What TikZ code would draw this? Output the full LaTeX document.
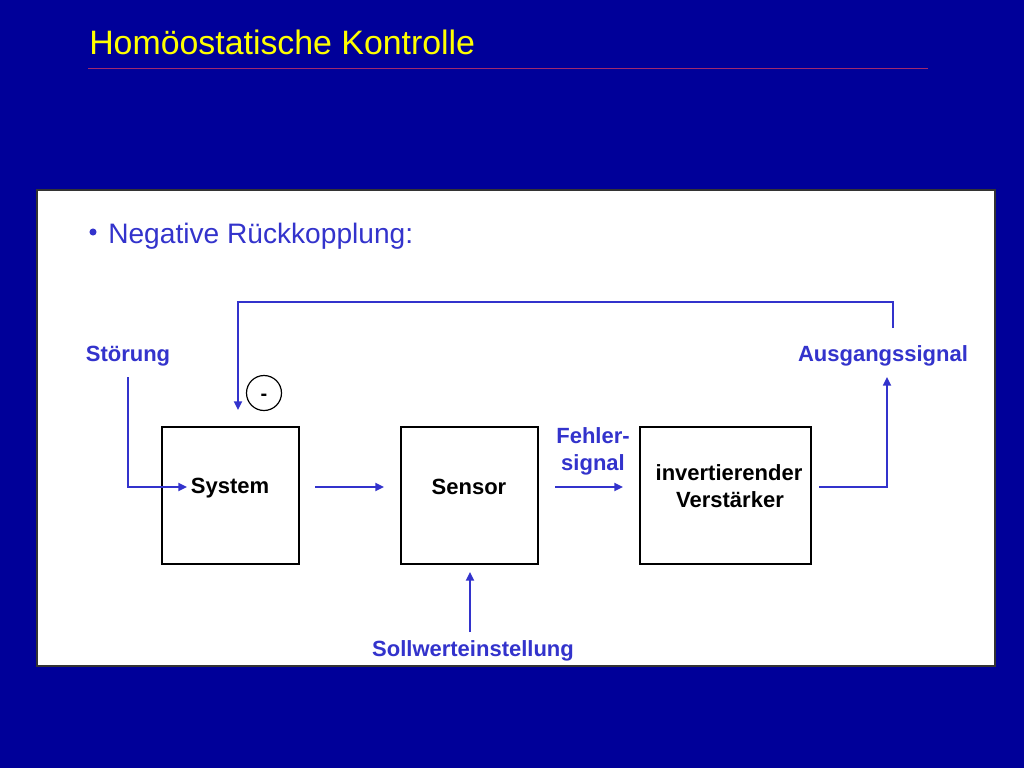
\documentclass[tikz,border=0pt]{standalone}
\usepackage{fontspec}
\setmainfont{Liberation Sans}
\usetikzlibrary{arrows.meta,calc}
\definecolor{bgblue}{RGB}{0,0,153}
\definecolor{txtblue}{RGB}{51,51,204}
\definecolor{titleyel}{RGB}{255,255,0}
\definecolor{rulecol}{RGB}{160,40,110}
\tikzset{
  lbl/.style={font=\fontsize{16.5pt}{19pt}\selectfont\bfseries, text=txtblue, inner sep=0pt},
  boxtxt/.style={font=\fontsize{16.5pt}{19pt}\selectfont\bfseries, text=black, inner sep=0pt},
  blockbox/.style={draw=black, line width=1pt, inner sep=0pt},
  arr/.style={draw=txtblue, line width=1.3pt, -{Triangle[length=6.5pt,width=6pt]}},
  plain/.style={draw=txtblue, line width=1.3pt}
}
\begin{document}
\begin{tikzpicture}[x=0.75pt,y=-0.75pt]
\fill[bgblue] (0,0) rectangle (1024,768);
\useasboundingbox (0,0) rectangle (1024,768);
% title
\node[anchor=base west, inner sep=0pt, text=titleyel, font=\fontsize{25.4pt}{28pt}\selectfont] (title) at (89,54) {Homöostatische Kontrolle};
\draw[rulecol, line width=0.9pt] (88,68.5) -- (928,68.5);
% panel
\node[draw=black!80, fill=white, line width=1pt, minimum width=958*0.75pt, minimum height=476*0.75pt, inner sep=0pt] (panel) at (516,428) {};
% bullet line
\node[circle, fill=txtblue, inner sep=0pt, minimum size=5.3pt] (bul) at (93,232) {};
\node[anchor=base west, inner sep=0pt, text=txtblue, font=\fontsize{21.1pt}{24pt}\selectfont] (neg) at (108,243) {Negative Rückkopplung:};
% boxes
\node[blockbox, minimum width=137*0.75pt, minimum height=137*0.75pt] (sys) at (230.5,495.5) {};
\node[blockbox, minimum width=137*0.75pt, minimum height=137*0.75pt] (sen) at (469.5,495.5) {};
\node[blockbox, minimum width=171*0.75pt, minimum height=137*0.75pt] (ver) at (725.5,495.5) {};
\node[boxtxt, anchor=base] (systxt) at (230,493) {System};
\node[boxtxt, anchor=base] (sentxt) at (469,494) {Sensor};
\node[boxtxt, anchor=base] (vertxt1) at (729,480) {invertierender};
\node[boxtxt, anchor=base] (vertxt2) at (730,507) {Verstärker};
% labels
\node[lbl, anchor=base] (stoer) at (128,361) {Störung};
\node[lbl, anchor=base] (ausg) at (883,361) {Ausgangssignal};
\node[lbl, anchor=base] (fehl1) at (593,443) {Fehler-};
\node[lbl, anchor=base] (fehl2) at (593,470) {signal};
\node[lbl, anchor=base] (soll) at (473,656) {Sollwerteinstellung};
% minus circle
\node[circle, draw=black, line width=0.9pt, minimum size=35*0.75pt, inner sep=0pt] (minus) at (264,393) {};
\node[inner sep=0pt, anchor=base, font=\fontsize{15pt}{16pt}\selectfont\bfseries] (minustxt) at (264,400) {-};
% coordinates
\coordinate (stA) at (128,377);
\coordinate (stB) at (187,487);
\coordinate (ssA) at (315,487);
\coordinate (ssB) at (384,487);
\coordinate (feA) at (555,487);
\coordinate (feB) at (623,487);
\coordinate (ouA) at (819,487);
\coordinate (ouB) at (887,377);
\coordinate (fbA) at (893,328);
\coordinate (fbC) at (893,302);
\coordinate (fbB) at (238,410);
\coordinate (soA) at (470,632);
\coordinate (soB) at (470,572);
% connectors
\draw[arr] (stA) |- (stB);
\draw[arr] (ssA) -- (ssB);
\draw[arr] (feA) -- (feB);
\draw[arr] (ouA) -| (ouB);
\draw[arr] (fbA) -- (fbC) -| (fbB);
\draw[arr] (soA) -- (soB);
\end{tikzpicture}
\end{document}
